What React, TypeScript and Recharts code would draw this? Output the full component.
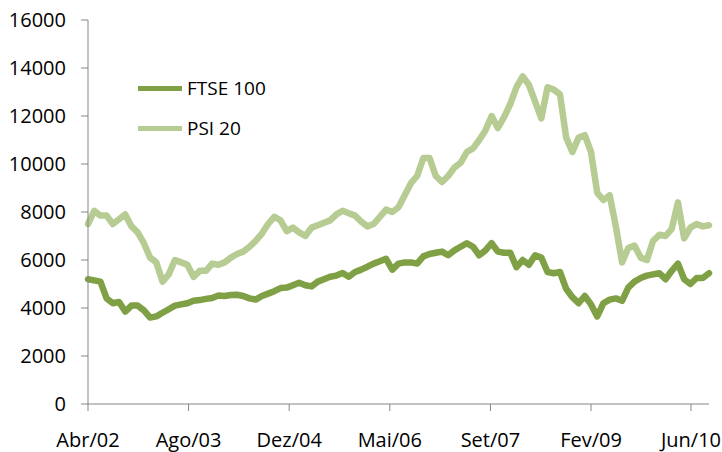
import React from 'react'
import { LineChart, Line, XAxis, YAxis } from 'recharts'

// months since Abr/02, one value per month
const ftse100 = [
  5200, 5150, 5100, 4400, 4200, 4250, 3850, 4100, 4100, 3900,
  3600, 3650, 3800, 3950, 4100, 4150, 4200, 4300, 4330, 4380,
  4420, 4520, 4500, 4540, 4550, 4500, 4400, 4350, 4500, 4600,
  4700, 4830, 4850, 4950, 5050, 4950, 4900, 5100, 5200, 5300,
  5350, 5460, 5300, 5500, 5600, 5720, 5850, 5950, 6050, 5600,
  5850, 5900, 5900, 5850, 6150, 6250, 6300, 6350, 6200, 6400,
  6550, 6700, 6550, 6200, 6400, 6700, 6350, 6300, 6300, 5700,
  6000, 5800, 6200, 6100, 5500, 5450, 5500, 4800, 4450, 4200,
  4500, 4150, 3650, 4200, 4350, 4400, 4300, 4850, 5100, 5250,
  5350, 5400, 5450, 5200, 5550, 5850, 5200, 5000, 5250, 5250,
  5450,
]

const psi20 = [
  7500, 8050, 7850, 7850, 7500, 7700, 7900, 7400, 7150, 6700,
  6100, 5900, 5100, 5400, 6000, 5900, 5800, 5300, 5550, 5550,
  5850, 5800, 5900, 6100, 6250, 6350, 6550, 6800, 7100, 7500,
  7800, 7650, 7200, 7350, 7150, 7000, 7350, 7450, 7550, 7650,
  7900, 8050, 7950, 7850, 7600, 7400, 7500, 7800, 8100, 8000,
  8200, 8700, 9200, 9500, 10250, 10250, 9500, 9250, 9500, 9850,
  10050, 10500, 10650, 11000, 11400, 12000, 11500, 11950, 12500, 13200,
  13650, 13300, 12600, 11900, 13200, 13100, 12900, 11100, 10500, 11100,
  11200, 10500, 8800, 8500, 8700, 7400, 5900, 6500, 6600, 6100,
  6000, 6800, 7050, 7000, 7300, 8400, 6900, 7350, 7500, 7400,
  7450,
]

const tickLabels = ['Abr/02', 'Ago/03', 'Dez/04', 'Mai/06', 'Set/07', 'Fev/09', 'Jun/10']
const tickMonths = [0, 16.2, 32.4, 48.6, 64.8, 81, 97.1]
const yTicks = [0, 2000, 4000, 6000, 8000, 10000, 12000, 14000, 16000]

const series = [
  { key: 'ftse', name: 'FTSE 100', color: '#80A046' },
  { key: 'psi', name: 'PSI 20', color: '#B6CC92' },
]

const data = ftse100.map((v, i) => ({ m: i, ftse: v, psi: psi20[i] }))

const FONT = '"Open Sans", sans-serif'

export default function App() {
  return (
    <div style={{ position: 'absolute', left: 0, top: 0, width: 722, height: 452, background: '#fff' }}>
      <LineChart width={722} height={452} data={data} margin={{ top: 20, right: 13, bottom: 0, left: 0 }}>
        <XAxis
          dataKey="m"
          type="number"
          domain={[0, 100]}
          ticks={tickMonths}
          tickFormatter={(v, i) => tickLabels[i]}
          height={48}
          stroke="#868686"
          tickSize={7}
          tickMargin={22}
          tick={{ fill: '#000', fontSize: 20, fontFamily: FONT }}
          interval={0}
        />
        <YAxis
          domain={[0, 16000]}
          ticks={yTicks}
          width={88}
          stroke="#868686"
          tickSize={7}
          tickMargin={15}
          tick={{ fill: '#000', fontSize: 20, fontFamily: FONT }}
        />
        {series.map((s) => (
          <Line
            key={s.key}
            dataKey={s.key}
            name={s.name}
            stroke={s.color}
            strokeWidth={6.5}
            strokeLinejoin="round"
            strokeLinecap="round"
            dot={false}
            isAnimationActive={false}
            type="linear"
          />
        ))}
      </LineChart>
      {/* legend box inside the plot, upper left */}
      <div style={{ position: 'absolute', left: 138, top: 68, fontFamily: FONT, fontSize: 19, color: '#000' }}>
        {series.map((s) => (
          <div key={s.key} style={{ display: 'flex', alignItems: 'center', height: 40 }}>
            <div style={{ width: 44, height: 5, background: s.color, marginRight: 5 }} />
            <span>{s.name}</span>
          </div>
        ))}
      </div>
    </div>
  )
}
